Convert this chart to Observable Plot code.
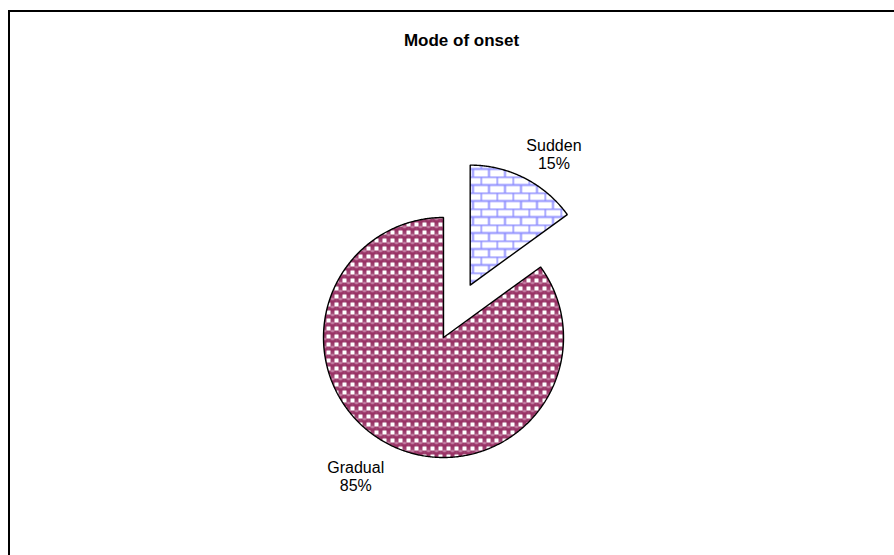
<!DOCTYPE html>
<html>
<head>
<meta charset="utf-8">
<script src="https://cdn.jsdelivr.net/npm/d3@7"></script>
<script src="https://cdn.jsdelivr.net/npm/@observablehq/plot@0.6"></script>
<style>
  html, body { margin: 0; padding: 0; background: #fff; overflow: hidden; }
  #frame { position: absolute; left: 8px; top: 10px; width: 2000px; height: 2000px;
           border-left: 2px solid #000; border-top: 2px solid #000; box-sizing: border-box; }
  #chart { position: absolute; left: 0; top: 0; }
</style>
</head>
<body>
<div id="frame"></div>
<div id="chart"></div>
<script>
// ---- data ----
const categories = ["Sudden", "Gradual"];
const values = [15, 85];
const valueLabels = ["15%", "85%"];
const title = "Mode of onset";

// ---- layout (pixels) ----
const W = 894, H = 555;
const R = 120;            // pie radius in px
const CX = 443, CY = 337; // pie centre in px
const explode = {Sudden: 0.49, Gradual: 0};   // fraction of radius
const labelDist = 1.33, labelShift = 5.5 * Math.PI / 180;
const patternFor = {Sudden: "url(#brick)", Gradual: "url(#spheres)"};

const table = categories.map((c, i) => ({category: c, value: values[i], label: valueLabels[i]}));
const arcs = d3.pie().sort(null).value(d => d.value)(table);

const polys = [];
const labelPts = [];
for (const a of arcs) {
  const name = a.data.category;
  const mid = (a.startAngle + a.endAngle) / 2;
  const ox = explode[name] * Math.sin(mid), oy = explode[name] * Math.cos(mid);
  const pts = [{category: name, x: ox, y: oy}];
  const n = Math.max(2, Math.ceil((a.endAngle - a.startAngle) / (Math.PI / 360)));
  for (let k = 0; k <= n; k++) {
    const t = a.startAngle + (a.endAngle - a.startAngle) * k / n;
    pts.push({category: name, x: ox + Math.sin(t), y: oy + Math.cos(t)});
  }
  pts.push({category: name, x: ox, y: oy});
  polys.push(pts);
  labelPts.push({
    text: name + "\n" + a.data.label,
    x: ox + labelDist * Math.sin(mid + labelShift),
    y: oy + labelDist * Math.cos(mid + labelShift)
  });
}

const plot = Plot.plot({
  width: W, height: H,
  margin: 0,
  style: {background: "transparent", fontFamily: "'Liberation Sans', Arial, sans-serif", overflow: "visible"},
  x: {domain: [-CX / R, (W - CX) / R], axis: null},
  y: {domain: [-(H - CY) / R, CY / R], axis: null},
  marks: [
    ...polys.map(p => Plot.line(p, {
      x: "x", y: "y", curve: "linear",
      fill: patternFor[p[0].category], stroke: "#000", strokeWidth: 1.4, strokeLinejoin: "miter"
    })),
    Plot.text(labelPts, {x: "x", y: "y", text: "text", fontSize: 16, fill: "#000",
      textAnchor: "middle", lineAnchor: "middle", lineHeight: 1.12, dx: -2, dy: 4}),
    Plot.text([title], {frameAnchor: "top", dy: 40, dx: 14, fontSize: 17, fontWeight: "bold",
      fill: "#000", lineAnchor: "middle"})
  ]
});

// patterns
const defs = d3.select(plot).insert("defs", ":first-child");
const brick = defs.append("pattern").attr("id", "brick").attr("patternUnits", "userSpaceOnUse")
  .attr("width", 16).attr("height", 16);
brick.append("rect").attr("width", 16).attr("height", 16).attr("fill", "#fff");
brick.append("path").attr("d", "M0 0.5H16M0 8.5H16M0.5 0V8.5M8.5 8.5V16")
  .attr("stroke", "#9191ff").attr("stroke-width", 2).attr("fill", "none");
const sph = defs.append("pattern").attr("id", "spheres").attr("patternUnits", "userSpaceOnUse")
  .attr("width", 8).attr("height", 8);
sph.append("rect").attr("width", 8).attr("height", 8).attr("fill", "#a04a75");
sph.append("circle").attr("cx", 4).attr("cy", 4).attr("r", 3.4).attr("fill", "#993366");
sph.append("ellipse").attr("cx", 4).attr("cy", 2.5).attr("rx", 2).attr("ry", 0.9).attr("fill", "#d39ab9");
for (const [x, y] of [[0, 0], [6, 0], [0, 6], [6, 6]]) {
  sph.append("rect").attr("x", x).attr("y", y).attr("width", 2).attr("height", 2).attr("fill", "#fff");
}

document.getElementById("chart").append(plot);
</script>
</body>
</html>
